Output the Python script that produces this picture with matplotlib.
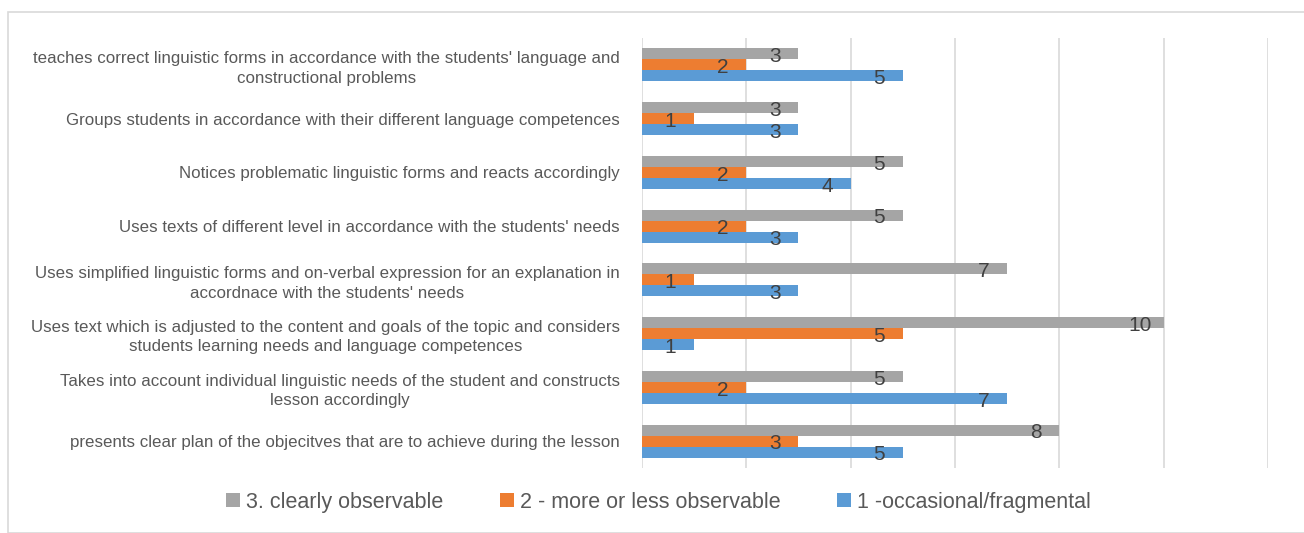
import matplotlib
matplotlib.use("Agg")
import matplotlib.pyplot as plt
import numpy as np
from matplotlib.patches import Rectangle

# categorias de baixo para cima (ordem do eixo)
categorias = [
    "presents clear plan of the objecitves that are to achieve during the lesson",
    "Takes into account individual linguistic needs of the student and constructs\nlesson accordingly",
    "Uses text which is adjusted to the content and goals of the topic and considers\nstudents learning needs and language competences",
    "Uses simplified linguistic forms and on-verbal expression for an explanation in\naccordnace with the students' needs",
    "Uses texts of different level in accordance with the students' needs",
    "Notices problematic linguistic forms and reacts accordingly",
    "Groups students in accordance with their different language competences",
    "teaches correct linguistic forms in accordance with the students' language and\nconstructional problems",
]
claramente = [8, 5, 10, 7, 5, 5, 3, 3]
mais_ou_menos = [3, 2, 5, 1, 2, 2, 1, 2]
ocasional = [5, 7, 1, 3, 3, 4, 3, 5]

series = [
    ("3. clearly observable", claramente, "#a5a5a5"),
    ("2 - more or less observable", mais_ou_menos, "#ed7d31"),
    ("1 -occasional/fragmental", ocasional, "#5b9bd5"),
]

FONTE = ["Liberation Sans", "DejaVu Sans"]
COR_TEXTO = "#595959"

fig = plt.figure(figsize=(13.04, 5.33), dpi=100)
ax = fig.add_axes([0.4923, 0.122, 0.4801, 0.8067])

y = np.arange(len(categorias))
altura = 0.205
deslocamentos = [altura, 0, -altura]

for (nome, valores, cor), d in zip(series, deslocamentos):
    ax.barh(y + d, valores, height=altura, color=cor, label=nome, zorder=3)
    for yi, v in zip(y, valores):
        ax.text(v - 0.45, yi + d - 0.05, str(v), ha="center", va="center",
                fontsize=15, color="#404040", family=FONTE, zorder=4)

ax.set_xlim(0, 12)
ax.set_ylim(-0.5, len(categorias) - 0.5)
ax.set_xticks(np.arange(0, 13, 2))
ax.set_xticklabels([])
ax.tick_params(axis="x", length=0)
ax.tick_params(axis="y", length=0, pad=16)
ax.set_yticks(y)
ax.set_yticklabels(categorias, fontsize=12.2, color=COR_TEXTO, family=FONTE,
                   multialignment="center", linespacing=1.35)
ax.grid(axis="x", color="#d9d9d9", linewidth=1.2, zorder=0)
for lado in ax.spines.values():
    lado.set_visible(False)

leg = fig.legend(loc="center", bbox_to_anchor=(0.505, 0.058), ncol=3, frameon=False,
                 handlelength=0.65, handleheight=0.65, handletextpad=0.3,
                 columnspacing=2.6, prop={"family": FONTE, "size": 15.5})
for t in leg.get_texts():
    t.set_color(COR_TEXTO)

fig.patches.append(Rectangle((8 / 1304, 0.0), 1300 / 1304, 1 - 12 / 533,
                             transform=fig.transFigure, fill=False,
                             edgecolor="#d9d9d9", linewidth=1.2))

fig.savefig("out.png", dpi=100)
